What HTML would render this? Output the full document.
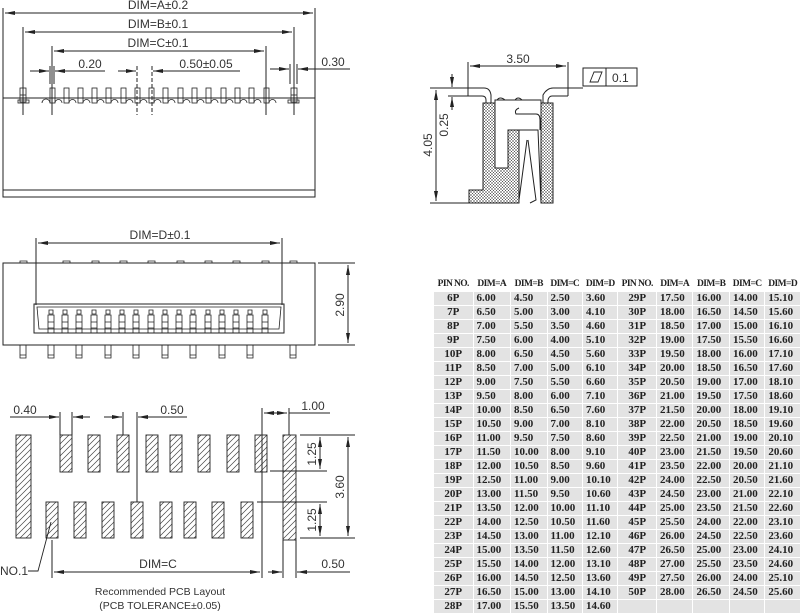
<!DOCTYPE html>
<html><head><meta charset="utf-8"><style>
html,body{margin:0;padding:0;background:#fff;width:800px;height:615px;overflow:hidden;position:relative}
svg{position:absolute;left:0;top:0}
svg text{font-family:"Liberation Sans",sans-serif;font-size:12px;fill:#333}
table{position:absolute;left:433px;top:277px;width:368px;table-layout:fixed;border-collapse:separate;border-spacing:1px;font-family:"Liberation Serif","Noto Serif CJK SC",serif;font-weight:bold;font-size:11px;color:#222}
td{height:13px;padding:0 0 0 3px;background:#e3e3e3;white-space:nowrap;overflow:hidden;line-height:13px}
td.p{text-align:center;padding:0}
tr.h td{background:#fff;font-size:9.5px;letter-spacing:-0.6px;padding:0}
</style></head><body>
<svg width="800" height="615" viewBox="0 0 800 615">
<defs>
<marker id="a" viewBox="0 0 10 4" refX="10" refY="2" markerWidth="10" markerHeight="4" orient="auto-start-reverse" markerUnits="userSpaceOnUse"><path d="M0,0L10,2L0,4z" fill="#222"/></marker>
<pattern id="hx" width="3" height="3" patternUnits="userSpaceOnUse"><rect width="3" height="3" fill="#fff"/><path d="M0,0L3,3M3,0L0,3" stroke="#555" stroke-width="0.5"/></pattern>
<pattern id="hd" width="6" height="6" patternUnits="userSpaceOnUse"><path d="M0,6L6,0M-1,1L1,-1M5,7L7,5" stroke="#444" stroke-width="0.7"/></pattern>
</defs>
<g stroke="#222" stroke-width="1" fill="none">
<!-- TOP VIEW -->
<rect x="3" y="98" width="312" height="99"/>
<line x1="3" y1="190" x2="315" y2="190"/>
<line x1="3" y1="8" x2="3" y2="98"/><line x1="315" y1="8" x2="315" y2="98"/>
<line x1="5" y1="13" x2="313" y2="13" marker-start="url(#a)" marker-end="url(#a)"/>
<line x1="23" y1="27" x2="23" y2="115"/><line x1="294" y1="27" x2="294" y2="115"/>
<line x1="25" y1="32" x2="292" y2="32" marker-start="url(#a)" marker-end="url(#a)"/>
<line x1="52" y1="46" x2="52" y2="115"/><line x1="266" y1="46" x2="266" y2="115"/>
<line x1="54" y1="51" x2="264" y2="51" marker-start="url(#a)" marker-end="url(#a)"/>
<line x1="30" y1="71" x2="49" y2="71" marker-end="url(#a)"/><line x1="105" y1="71" x2="55" y2="71" marker-end="url(#a)"/>
<line x1="50" y1="66" x2="50" y2="84"/><line x1="54" y1="66" x2="54" y2="84"/>
<line x1="118" y1="71" x2="136" y2="71" marker-end="url(#a)"/><line x1="240" y1="71" x2="153" y2="71" marker-end="url(#a)"/>
<line x1="137" y1="66" x2="137" y2="115" stroke-dasharray="4,2"/><line x1="152" y1="66" x2="152" y2="115" stroke-dasharray="4,2"/>
<line x1="270" y1="69" x2="289" y2="69" marker-end="url(#a)"/><line x1="350" y1="69" x2="298" y2="69" marker-end="url(#a)"/>
<line x1="290" y1="64" x2="290" y2="84"/><line x1="297" y1="64" x2="297" y2="84"/>
<g stroke-width="0.8">
<rect x="20" y="88" width="6" height="14"/><line x1="20" y1="95" x2="26" y2="95"/><rect x="18" y="100" width="11" height="3"/>
<rect x="291" y="88" width="6" height="14"/><line x1="291" y1="95" x2="297" y2="95"/><rect x="288" y="100" width="11" height="3"/>
<path d="M42,103a4,4 0 0 1 8,0"/>
<rect x="50" y="88" width="5" height="15"/><path d="M55,103a3.5,3.5 0 0 1 7,0"/>
<rect x="64" y="88" width="5" height="15"/><path d="M69,103a3.5,3.5 0 0 1 7,0"/>
<rect x="78" y="88" width="5" height="15"/><path d="M83,103a3.5,3.5 0 0 1 7,0"/>
<rect x="92" y="88" width="5" height="15"/><path d="M97,103a3.5,3.5 0 0 1 7,0"/>
<rect x="106" y="88" width="5" height="15"/><path d="M111,103a3.5,3.5 0 0 1 7,0"/>
<rect x="121" y="88" width="5" height="15"/><path d="M126,103a3.5,3.5 0 0 1 7,0"/>
<rect x="135" y="88" width="5" height="15"/><path d="M140,103a3.5,3.5 0 0 1 7,0"/>
<rect x="149" y="88" width="5" height="15"/><path d="M154,103a3.5,3.5 0 0 1 7,0"/>
<rect x="163" y="88" width="5" height="15"/><path d="M168,103a3.5,3.5 0 0 1 7,0"/>
<rect x="178" y="88" width="5" height="15"/><path d="M183,103a3.5,3.5 0 0 1 7,0"/>
<rect x="192" y="88" width="5" height="15"/><path d="M197,103a3.5,3.5 0 0 1 7,0"/>
<rect x="206" y="88" width="5" height="15"/><path d="M211,103a3.5,3.5 0 0 1 7,0"/>
<rect x="221" y="88" width="5" height="15"/><path d="M226,103a3.5,3.5 0 0 1 7,0"/>
<rect x="235" y="88" width="5" height="15"/><path d="M240,103a3.5,3.5 0 0 1 7,0"/>
<rect x="249" y="88" width="5" height="15"/><path d="M254,103a3.5,3.5 0 0 1 7,0"/>
<rect x="264" y="88" width="5" height="15"/><path d="M269,103a3.5,3.5 0 0 1 7,0"/>
</g>
<!-- SIDE VIEW -->
<line x1="468" y1="62" x2="468" y2="88"/><line x1="568" y1="62" x2="568" y2="88"/>
<line x1="470" y1="66" x2="566" y2="66" marker-start="url(#a)" marker-end="url(#a)"/>
<path d="M483,103H495V168H508V130H519V203H469V190H483Z" fill="url(#hx)"/>
<path d="M541,103H553V203H541Z" fill="url(#hx)"/>
<path d="M468,88H484Q490,88 491,95V103M468,96H482Q486,96 486,100V103M468,88V96"/>
<path d="M568,88H553Q547,88 543,95V103M568,96H552Q549,96 548,100V103M568,88V96"/>
<path d="M495,103V100H541V103M497,100Q500,96 505,100M515,100Q518,96 522,100"/>
<path d="M519,108Q514,110 516,114H536Q540,114 540,120V130"/>
<path d="M519,130H538L541,203M519,200L527,140M528,140L536,200L530,203"/>
<line x1="568" y1="88" x2="583" y2="88"/>
<rect x="583" y="68" width="54" height="18"/><line x1="606" y1="68" x2="606" y2="86"/>
<path d="M590,82L594,72H602L598,82Z" stroke-width="0.9"/>
<line x1="430" y1="88" x2="468" y2="88"/><line x1="430" y1="203" x2="469" y2="203"/>
<line x1="436" y1="90" x2="436" y2="201" marker-start="url(#a)" marker-end="url(#a)"/>
<line x1="448" y1="96" x2="468" y2="96"/>
<line x1="452" y1="74" x2="452" y2="87" marker-end="url(#a)"/><line x1="452" y1="110" x2="452" y2="97" marker-end="url(#a)"/>
<!-- FRONT VIEW -->
<rect x="3" y="263" width="312" height="82"/>
<g stroke-width="0.8">
<path d="M20,263v-2h7v2M63,263v-2h7v2M92,263v-2h7v2M120,263v-2h7v2M148,263v-2h7v2M177,263v-2h7v2M205,263v-2h7v2M233,263v-2h7v2M262,263v-2h7v2M290,263v-2h7v2"/>
</g>
<line x1="36" y1="238" x2="36" y2="305"/><line x1="282" y1="238" x2="282" y2="305"/>
<line x1="38" y1="243" x2="280" y2="243" marker-start="url(#a)" marker-end="url(#a)"/>
<path d="M34,304H284V333H34Z"/><path d="M37,307H281L279,329H39Z" stroke-width="0.8"/>
<g stroke-width="0.8">
<path d="M48,315h6v18h-6zM48,322h6M48,328h6M49,310h4v4h-4z"/>
<path d="M62,315h6v18h-6zM62,322h6M62,328h6M63,310h4v4h-4z"/>
<path d="M76,315h6v18h-6zM76,322h6M76,328h6M77,310h4v4h-4z"/>
<path d="M91,315h6v18h-6zM91,322h6M91,328h6M92,310h4v4h-4z"/>
<path d="M105,315h6v18h-6zM105,322h6M105,328h6M106,310h4v4h-4z"/>
<path d="M119,315h6v18h-6zM119,322h6M119,328h6M120,310h4v4h-4z"/>
<path d="M133,315h6v18h-6zM133,322h6M133,328h6M134,310h4v4h-4z"/>
<path d="M148,315h6v18h-6zM148,322h6M148,328h6M149,310h4v4h-4z"/>
<path d="M162,315h6v18h-6zM162,322h6M162,328h6M163,310h4v4h-4z"/>
<path d="M176,315h6v18h-6zM176,322h6M176,328h6M177,310h4v4h-4z"/>
<path d="M190,315h6v18h-6zM190,322h6M190,328h6M191,310h4v4h-4z"/>
<path d="M205,315h6v18h-6zM205,322h6M205,328h6M206,310h4v4h-4z"/>
<path d="M219,315h6v18h-6zM219,322h6M219,328h6M220,310h4v4h-4z"/>
<path d="M233,315h6v18h-6zM233,322h6M233,328h6M234,310h4v4h-4z"/>
<path d="M247,315h6v18h-6zM247,322h6M247,328h6M248,310h4v4h-4z"/>
<path d="M262,315h6v18h-6zM262,322h6M262,328h6M263,310h4v4h-4z"/>
<path d="M20,345v13h6v-13M48,345v13h6v-13M76,345v13h6v-13M105,345v13h6v-13M133,345v13h6v-13M162,345v13h6v-13M190,345v13h6v-13M219,345v13h6v-13M247,345v13h6v-13M290,345v13h6v-13"/>
<path d="M20,355h6M48,355h6M76,355h6M105,355h6M133,355h6M162,355h6M190,355h6M219,355h6M247,355h6M290,355h6"/>
</g>
<line x1="318" y1="263" x2="355" y2="263"/><line x1="318" y1="345" x2="355" y2="345"/>
<line x1="348" y1="265" x2="348" y2="343" marker-start="url(#a)" marker-end="url(#a)"/>
<!-- PCB -->
<g fill="url(#hd)" stroke-width="0.9">
<rect x="16" y="435" width="15" height="103"/><rect x="283" y="435" width="13" height="105"/>
<rect x="60" y="435" width="12" height="37"/><rect x="88" y="435" width="12" height="37"/><rect x="117" y="435" width="12" height="37"/><rect x="146" y="435" width="12" height="37"/><rect x="170" y="435" width="12" height="37"/><rect x="198" y="435" width="12" height="37"/><rect x="227" y="435" width="12" height="37"/><rect x="255" y="435" width="12" height="37"/>
<rect x="46" y="502" width="12" height="36"/><rect x="74" y="502" width="12" height="36"/><rect x="102" y="502" width="12" height="36"/><rect x="131" y="502" width="12" height="36"/><rect x="160" y="502" width="12" height="36"/><rect x="184" y="502" width="12" height="36"/><rect x="212" y="502" width="12" height="36"/><rect x="241" y="502" width="12" height="36"/>
</g>
<line x1="10" y1="417" x2="52" y2="417"/><line x1="52" y1="417" x2="59" y2="417" marker-end="url(#a)"/><line x1="90" y1="417" x2="73" y2="417" marker-end="url(#a)"/>
<line x1="60" y1="412" x2="60" y2="435"/><line x1="72" y1="412" x2="72" y2="435"/>
<line x1="104" y1="417" x2="122" y2="417" marker-end="url(#a)"/><line x1="187" y1="417" x2="138" y2="417" marker-end="url(#a)"/>
<line x1="123" y1="412" x2="123" y2="435"/><line x1="137" y1="412" x2="137" y2="502"/>
<line x1="262" y1="408" x2="262" y2="578"/><line x1="289" y1="408" x2="289" y2="435"/>
<line x1="264" y1="413" x2="287" y2="413" marker-start="url(#a)" marker-end="url(#a)"/><line x1="289" y1="413" x2="330" y2="413"/>
<line x1="300" y1="435" x2="355" y2="435"/><line x1="270" y1="471" x2="327" y2="471"/><line x1="257" y1="502" x2="327" y2="502"/><line x1="300" y1="538" x2="355" y2="538"/>
<line x1="320" y1="437" x2="320" y2="469" marker-start="url(#a)" marker-end="url(#a)"/>
<line x1="320" y1="504" x2="320" y2="536" marker-start="url(#a)" marker-end="url(#a)"/>
<line x1="348" y1="437" x2="348" y2="536" marker-start="url(#a)" marker-end="url(#a)"/>
<line x1="52" y1="540" x2="52" y2="578"/><line x1="283" y1="540" x2="283" y2="578"/><line x1="296" y1="540" x2="296" y2="578"/>
<line x1="54" y1="572" x2="260" y2="572" marker-start="url(#a)" marker-end="url(#a)"/>
<line x1="268" y1="572" x2="282" y2="572" marker-end="url(#a)"/><line x1="350" y1="572" x2="297" y2="572" marker-end="url(#a)"/>
<path d="M28,571H38L51,522" stroke-width="0.9"/>
</g>
<text x="158" y="9" text-anchor="middle">DIM=A±0.2</text>
<text x="158" y="28" text-anchor="middle">DIM=B±0.1</text>
<text x="158" y="47" text-anchor="middle">DIM=C±0.1</text>
<text x="90" y="68" text-anchor="middle">0.20</text>
<text x="206" y="68" text-anchor="middle">0.50±0.05</text>
<text x="333" y="66" text-anchor="middle">0.30</text>
<text x="518" y="63" text-anchor="middle">3.50</text>
<text x="612" y="82">0.1</text>
<text transform="translate(432,145) rotate(-90)" text-anchor="middle">4.05</text>
<text transform="translate(448,125) rotate(-90)" text-anchor="middle">0.25</text>
<text x="160" y="239" text-anchor="middle">DIM=D±0.1</text>
<text transform="translate(344,305) rotate(-90)" text-anchor="middle">2.90</text>
<text x="25" y="414" text-anchor="middle">0.40</text>
<text x="172" y="414" text-anchor="middle">0.50</text>
<text x="313" y="410" text-anchor="middle">1.00</text>
<text transform="translate(316,454) rotate(-90)" text-anchor="middle">1.25</text>
<text transform="translate(316,520) rotate(-90)" text-anchor="middle">1.25</text>
<text transform="translate(344,487) rotate(-90)" text-anchor="middle">3.60</text>
<text x="158" y="568" text-anchor="middle">DIM=C</text>
<text x="333" y="568" text-anchor="middle">0.50</text>
<text x="14" y="575" text-anchor="middle">NO.1</text>
<text x="160" y="595" text-anchor="middle" style="font-size:10.5px">Recommended PCB Layout</text>
<text x="160" y="609" text-anchor="middle" style="font-size:10.5px">(PCB TOLERANCE±0.05)</text>
</svg>
<table>
<colgroup><col style="width:38px"><col style="width:36px"><col style="width:35px"><col style="width:34px"><col style="width:34px"><col style="width:37px"><col style="width:35px"><col style="width:35px"><col style="width:34px"><col style="width:34px"></colgroup>
<tr class="h"><td class="p">PIN NO.</td><td class="p">DIM=A</td><td class="p">DIM=B</td><td class="p">DIM=C</td><td class="p">DIM=D</td><td class="p">PIN NO.</td><td class="p">DIM=A</td><td class="p">DIM=B</td><td class="p">DIM=C</td><td class="p">DIM=D</td></tr>
<tr><td class="p">6P</td><td>6.00</td><td>4.50</td><td>2.50</td><td>3.60</td><td class="p">29P</td><td>17.50</td><td>16.00</td><td>14.00</td><td>15.10</td></tr>
<tr><td class="p">7P</td><td>6.50</td><td>5.00</td><td>3.00</td><td>4.10</td><td class="p">30P</td><td>18.00</td><td>16.50</td><td>14.50</td><td>15.60</td></tr>
<tr><td class="p">8P</td><td>7.00</td><td>5.50</td><td>3.50</td><td>4.60</td><td class="p">31P</td><td>18.50</td><td>17.00</td><td>15.00</td><td>16.10</td></tr>
<tr><td class="p">9P</td><td>7.50</td><td>6.00</td><td>4.00</td><td>5.10</td><td class="p">32P</td><td>19.00</td><td>17.50</td><td>15.50</td><td>16.60</td></tr>
<tr><td class="p">10P</td><td>8.00</td><td>6.50</td><td>4.50</td><td>5.60</td><td class="p">33P</td><td>19.50</td><td>18.00</td><td>16.00</td><td>17.10</td></tr>
<tr><td class="p">11P</td><td>8.50</td><td>7.00</td><td>5.00</td><td>6.10</td><td class="p">34P</td><td>20.00</td><td>18.50</td><td>16.50</td><td>17.60</td></tr>
<tr><td class="p">12P</td><td>9.00</td><td>7.50</td><td>5.50</td><td>6.60</td><td class="p">35P</td><td>20.50</td><td>19.00</td><td>17.00</td><td>18.10</td></tr>
<tr><td class="p">13P</td><td>9.50</td><td>8.00</td><td>6.00</td><td>7.10</td><td class="p">36P</td><td>21.00</td><td>19.50</td><td>17.50</td><td>18.60</td></tr>
<tr><td class="p">14P</td><td>10.00</td><td>8.50</td><td>6.50</td><td>7.60</td><td class="p">37P</td><td>21.50</td><td>20.00</td><td>18.00</td><td>19.10</td></tr>
<tr><td class="p">15P</td><td>10.50</td><td>9.00</td><td>7.00</td><td>8.10</td><td class="p">38P</td><td>22.00</td><td>20.50</td><td>18.50</td><td>19.60</td></tr>
<tr><td class="p">16P</td><td>11.00</td><td>9.50</td><td>7.50</td><td>8.60</td><td class="p">39P</td><td>22.50</td><td>21.00</td><td>19.00</td><td>20.10</td></tr>
<tr><td class="p">17P</td><td>11.50</td><td>10.00</td><td>8.00</td><td>9.10</td><td class="p">40P</td><td>23.00</td><td>21.50</td><td>19.50</td><td>20.60</td></tr>
<tr><td class="p">18P</td><td>12.00</td><td>10.50</td><td>8.50</td><td>9.60</td><td class="p">41P</td><td>23.50</td><td>22.00</td><td>20.00</td><td>21.10</td></tr>
<tr><td class="p">19P</td><td>12.50</td><td>11.00</td><td>9.00</td><td>10.10</td><td class="p">42P</td><td>24.00</td><td>22.50</td><td>20.50</td><td>21.60</td></tr>
<tr><td class="p">20P</td><td>13.00</td><td>11.50</td><td>9.50</td><td>10.60</td><td class="p">43P</td><td>24.50</td><td>23.00</td><td>21.00</td><td>22.10</td></tr>
<tr><td class="p">21P</td><td>13.50</td><td>12.00</td><td>10.00</td><td>11.10</td><td class="p">44P</td><td>25.00</td><td>23.50</td><td>21.50</td><td>22.60</td></tr>
<tr><td class="p">22P</td><td>14.00</td><td>12.50</td><td>10.50</td><td>11.60</td><td class="p">45P</td><td>25.50</td><td>24.00</td><td>22.00</td><td>23.10</td></tr>
<tr><td class="p">23P</td><td>14.50</td><td>13.00</td><td>11.00</td><td>12.10</td><td class="p">46P</td><td>26.00</td><td>24.50</td><td>22.50</td><td>23.60</td></tr>
<tr><td class="p">24P</td><td>15.00</td><td>13.50</td><td>11.50</td><td>12.60</td><td class="p">47P</td><td>26.50</td><td>25.00</td><td>23.00</td><td>24.10</td></tr>
<tr><td class="p">25P</td><td>15.50</td><td>14.00</td><td>12.00</td><td>13.10</td><td class="p">48P</td><td>27.00</td><td>25.50</td><td>23.50</td><td>24.60</td></tr>
<tr><td class="p">26P</td><td>16.00</td><td>14.50</td><td>12.50</td><td>13.60</td><td class="p">49P</td><td>27.50</td><td>26.00</td><td>24.00</td><td>25.10</td></tr>
<tr><td class="p">27P</td><td>16.50</td><td>15.00</td><td>13.00</td><td>14.10</td><td class="p">50P</td><td>28.00</td><td>26.50</td><td>24.50</td><td>25.60</td></tr>
<tr><td class="p">28P</td><td>17.00</td><td>15.50</td><td>13.50</td><td>14.60</td><td></td><td></td><td></td><td></td><td></td></tr>
</table>
</body></html>
